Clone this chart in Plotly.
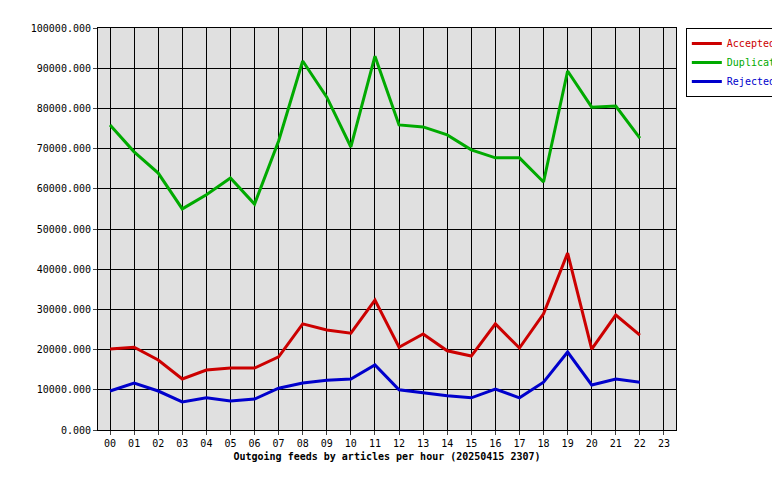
import plotly.graph_objects as go

hours = [f"{h:02d}" for h in range(24)]
accepted = [20150,20600,17400,12700,14900,15400,15400,18200,26400,24900,24100,32300,20600,23900,19700,18400,26400,20400,28900,44000,20100,28600,23600]
duplicates = [75900,69200,63900,55000,58500,62700,56200,71900,91800,82800,70400,93000,75900,75400,73400,69700,67700,67700,61700,89300,80300,80600,72600]
rejected = [9700,11700,9700,7000,8000,7200,7700,10400,11700,12400,12700,16200,10000,9200,8500,8000,10200,8000,11900,19400,11200,12700,11900]
yticks = list(range(0, 100001, 10000))

fig = go.Figure()
for name, vals, col in [("Accepted", accepted, "#cc0000"), ("Duplicates", duplicates, "#00aa00"), ("Rejected", rejected, "#0000cc")]:
    fig.add_trace(go.Scatter(x=hours[:len(vals)], y=vals, name=f"<span style='color:{col}'>{name}</span>",
                             mode="lines", line=dict(color=col, width=3)))

font = dict(family="DejaVu Sans Mono", size=10, color="black")
fig.update_layout(
    width=780, height=480, paper_bgcolor="white", plot_bgcolor="#e0e0e0",
    margin=dict(l=90, r=112, t=20, b=58, autoexpand=False), font=font, showlegend=True,
    legend=dict(x=1.017, y=1, xanchor="left", yanchor="top", bordercolor="black", borderwidth=1,
                bgcolor="white", font=dict(family="DejaVu Sans Mono", size=10), itemwidth=30,
                tracegroupgap=0),
    xaxis=dict(type="category", categoryarray=hours, range=[-0.5, 23.5], showgrid=True, gridcolor="black",
               linecolor="black", mirror=True, showline=True, ticks="outside", ticklen=4, automargin=False,
               title=dict(text="<b>Outgoing feeds by articles per hour (20250415 2307)</b>", font=font, standoff=4)),
    yaxis=dict(range=[0, 100000], tickvals=yticks, ticktext=[f"{v}.000" for v in yticks], automargin=False,
               showgrid=True, gridcolor="black", linecolor="black", mirror=True, showline=True,
               ticks="outside", ticklen=4, zeroline=False),
)
fig.write_html("out.html")
